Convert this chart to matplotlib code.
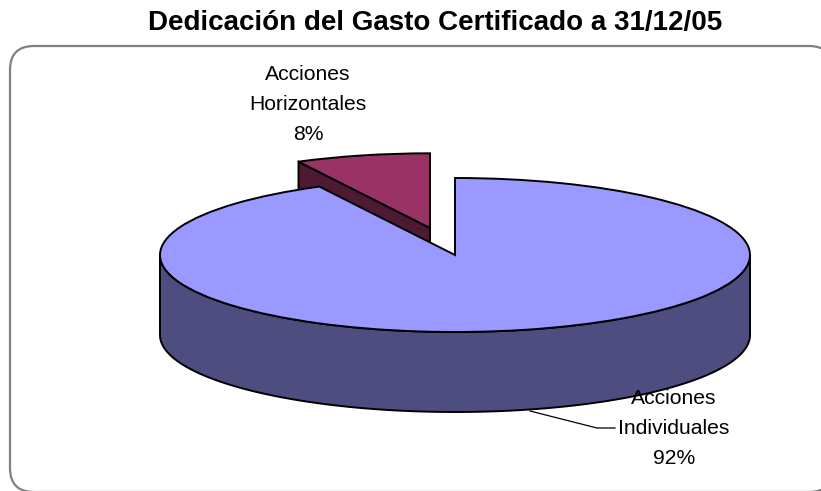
import numpy as np
import matplotlib
matplotlib.use('Agg')
import matplotlib.pyplot as plt
from matplotlib.patches import FancyBboxPatch, Polygon

plt.rcParams['font.family'] = ['Liberation Sans', 'DejaVu Sans']

labels = ['Acciones\nIndividuales\n92%', 'Acciones\nHorizontales\n8%']
values = [92.4, 7.6]
title = 'Dedicación del Gasto Certificado a 31/12/05'

W, H = 821, 491
cx, cy = 455, 255   # pie centre, pixels
rx, ry = 295, 77    # ellipse radii, pixels
depth = 80 / ry
shift = (-25 / rx, 27 / ry)   # exploded slice
r2 = 0.97

fig = plt.figure(figsize=(W / 100, H / 100), dpi=100)

# frame + title live in pixel coords, frame runs off the right and bottom of the image
bg = fig.add_axes([0, 0, 1, 1])
bg.set_xlim(0, W)
bg.set_ylim(H, 0)
bg.axis('off')
bg.add_patch(FancyBboxPatch((10, 46), 823, 446, boxstyle='round,pad=0,rounding_size=24',
                            fc='white', ec='#808080', lw=1.6))
bg.text(435, 29.5, title, ha='center', va='baseline', fontsize=20, fontweight='bold', color='black')

# pie: one data unit is rx across and ry down, so the circle becomes the ellipse
ax = fig.add_axes([0, 0, 1, 1])
ax.patch.set_alpha(0)
wedges, _ = ax.pie(values, startangle=90, counterclock=False, radius=1,
                   colors=['#9999FF', '#993366'],
                   wedgeprops={'edgecolor': 'black', 'linewidth': 1.4})
ax.set_aspect('auto')
ax.set_xlim(-cx / rx, (W - cx) / rx)
ax.set_ylim((cy - H) / ry, cy / ry)
ax.axis('off')
main, small = wedges
main.set_zorder(5)
small.set_center(shift)
small.set_radius(r2)
small.set_zorder(4)

# outer wall of the big slice
t = np.radians(np.linspace(180, 360, 200))
xs = np.cos(t)
ys = np.sin(t)
wall = np.column_stack([np.r_[xs, xs[::-1]], np.r_[ys, ys[::-1] - depth]])
ax.add_patch(Polygon(wall, fc='#4D4D80', ec='black', lw=1.4, zorder=1))

# cut face of the small slice, seen through the gap
end = np.radians(90 + 360 * values[1] / sum(values))
px = shift[0] + r2 * np.cos(end)
py = shift[1] + r2 * np.sin(end)
face = [(shift[0], shift[1]), (px, py), (px, py - depth), (shift[0], shift[1] - depth)]
ax.add_patch(Polygon(face, fc='#4D1933', ec='black', lw=1.4, zorder=2))

# labels
bg2 = fig.add_axes([0, 0, 1, 1])
bg2.set_xlim(0, W)
bg2.set_ylim(H, 0)
bg2.axis('off')
bg2.patch.set_alpha(0)
bg2.plot([530, 597, 615], [411, 428, 428], color='black', lw=0.9)
bg2.text(674, 464, labels[0], ha='center', va='baseline', multialignment='center',
         fontsize=15.2, linespacing=1.72)
bg2.text(308, 140, labels[1], ha='center', va='baseline', multialignment='center',
         fontsize=15.2, linespacing=1.72)

fig.savefig('out.png', dpi=100)
